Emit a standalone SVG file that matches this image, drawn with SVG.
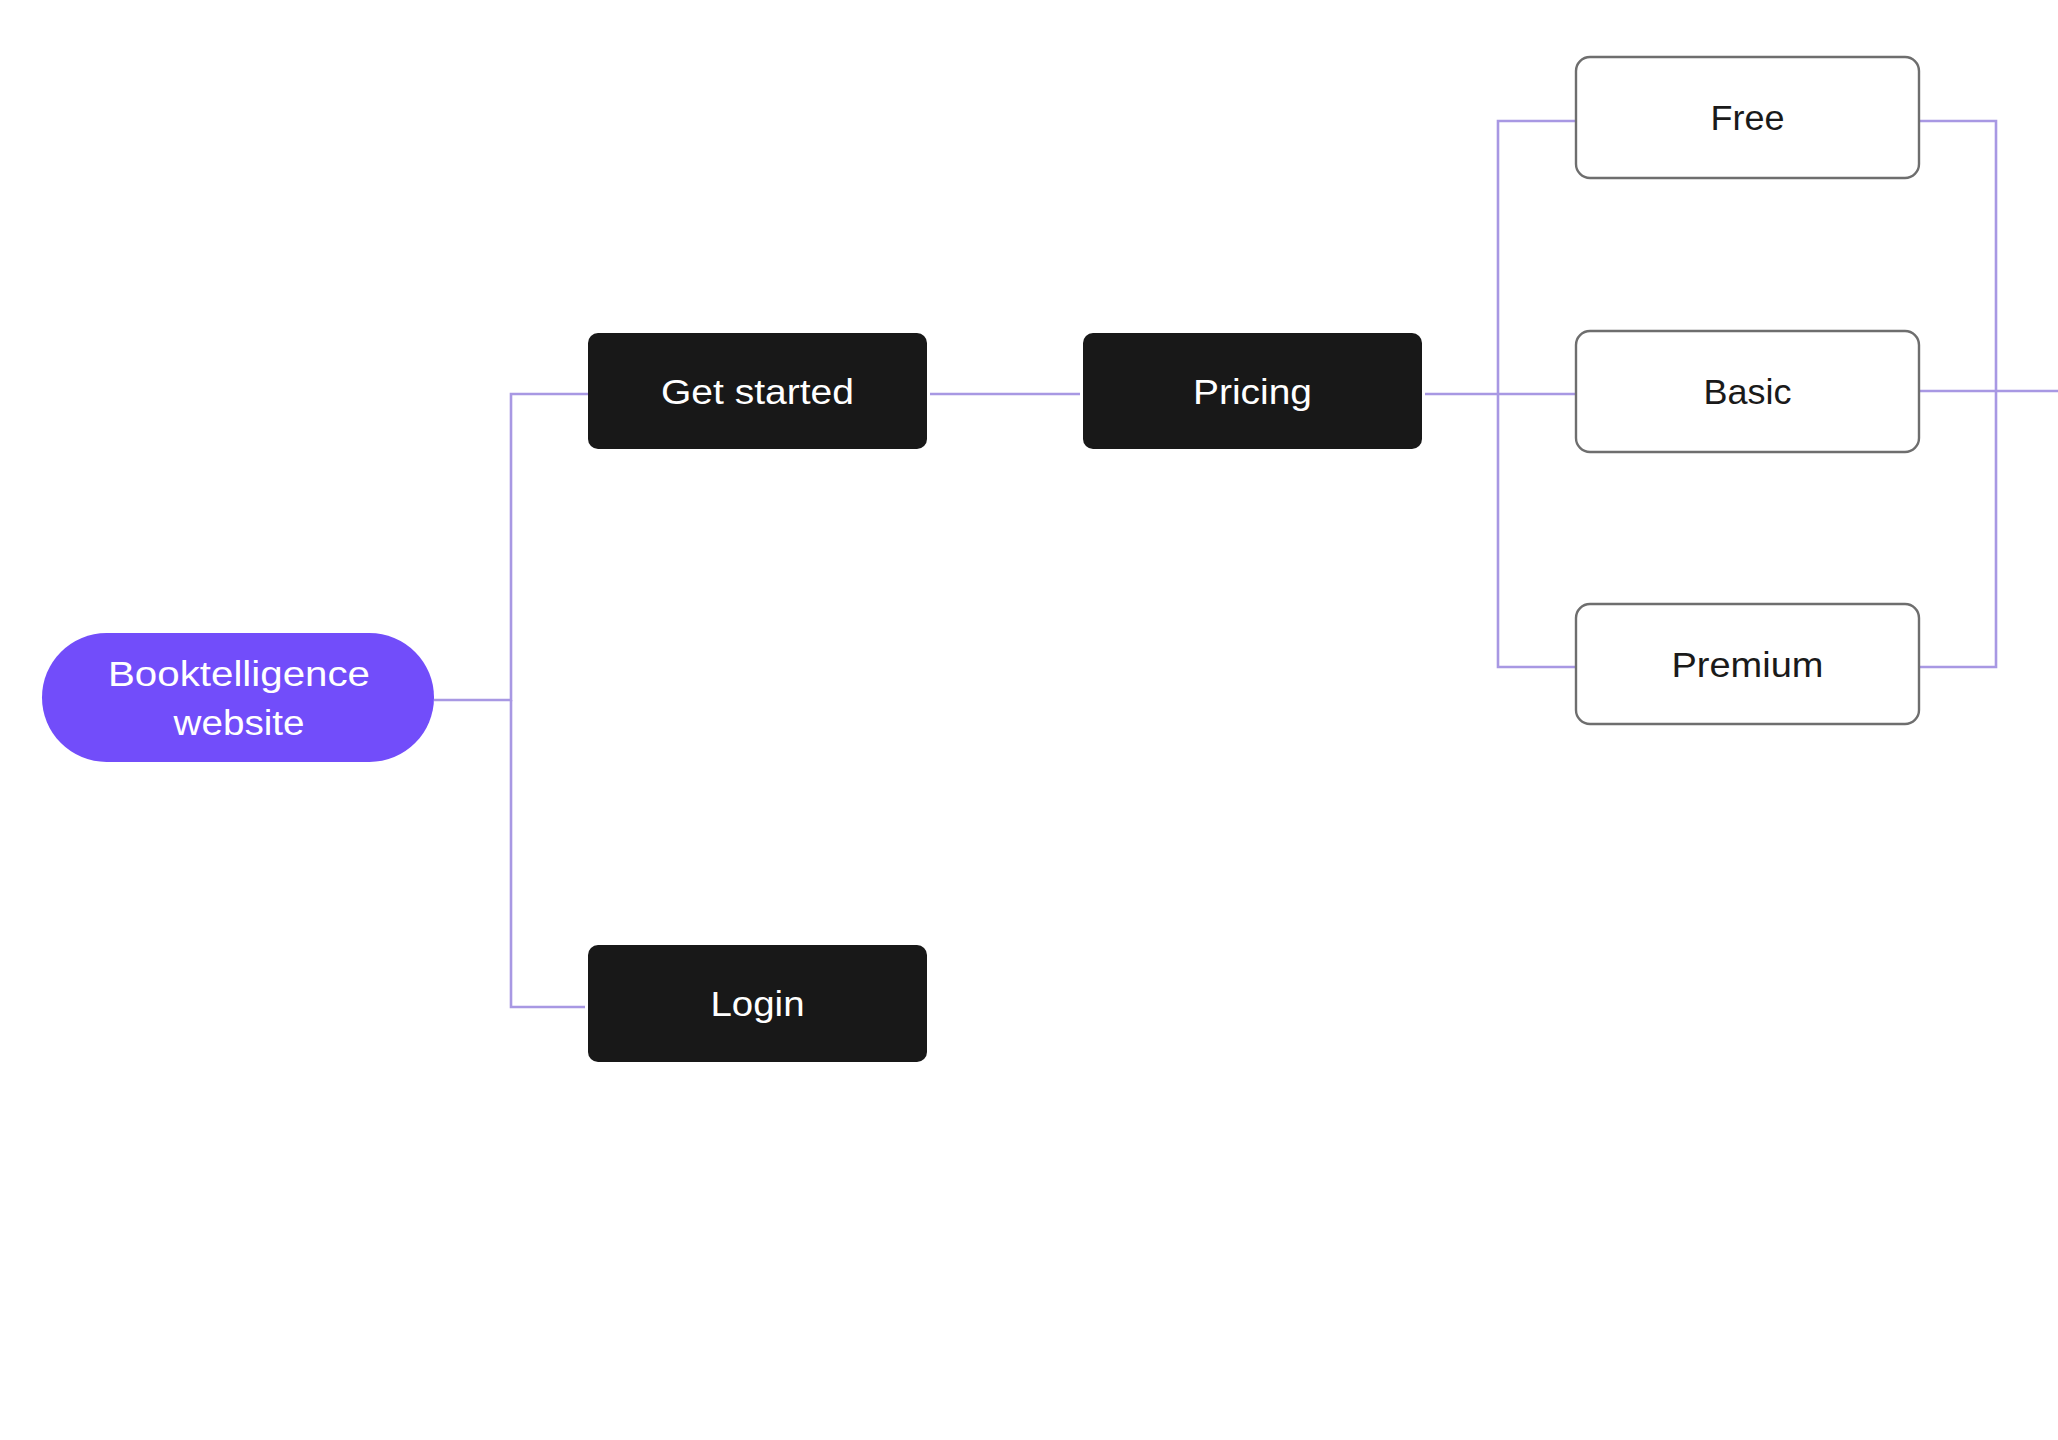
<svg xmlns="http://www.w3.org/2000/svg" width="2058" height="1440" viewBox="0 0 2058 1440">
<style>
.conn{fill:none;stroke:#a898e3;stroke-width:2.6}
.dark rect{fill:#181818}
.dark text{fill:#ffffff}
.light rect{fill:#ffffff;stroke:#6e6e6e;stroke-width:2.4}
.light text{fill:#1a1a1a}
text{font-family:"Liberation Sans",Arial,sans-serif;font-size:35px;text-anchor:middle}
</style>
<rect width="2058" height="1440" fill="#ffffff"/>
<g id="connectors">
<path class="conn" d="M434 700 H511 V394 H588"/>
<path class="conn" d="M511 700 V1007 H585"/>
<path class="conn" d="M930 394 H1080"/>
<path class="conn" d="M1425 394 H1576"/>
<path class="conn" d="M1576 121 H1498 V667 H1576"/>
<path class="conn" d="M1919 121 H1996 V667 H1919"/>
<path class="conn" d="M1919 391 H2058"/>
</g>
<g id="node-root">
<rect x="42" y="633" width="392" height="129" rx="64.5" fill="#724dfa"/>
<text x="239" y="686" fill="#ffffff" textLength="262" lengthAdjust="spacingAndGlyphs">Booktelligence</text>
<text x="239" y="735" fill="#ffffff" textLength="131" lengthAdjust="spacingAndGlyphs">website</text>
</g>
<g id="node-get-started" class="dark">
<rect x="588" y="333" width="339" height="116" rx="10"/>
<text x="757.5" y="404" textLength="193" lengthAdjust="spacingAndGlyphs">Get started</text>
</g>
<g id="node-pricing" class="dark">
<rect x="1083" y="333" width="339" height="116" rx="10"/>
<text x="1252.5" y="404" textLength="119" lengthAdjust="spacingAndGlyphs">Pricing</text>
</g>
<g id="node-login" class="dark">
<rect x="588" y="945" width="339" height="117" rx="10"/>
<text x="757.5" y="1016" textLength="94" lengthAdjust="spacingAndGlyphs">Login</text>
</g>
<g id="node-free" class="light">
<rect x="1576" y="57" width="343" height="121" rx="14"/>
<text x="1747.5" y="130" textLength="74" lengthAdjust="spacingAndGlyphs">Free</text>
</g>
<g id="node-basic" class="light">
<rect x="1576" y="331" width="343" height="121" rx="14"/>
<text x="1747.5" y="404" textLength="88" lengthAdjust="spacingAndGlyphs">Basic</text>
</g>
<g id="node-premium" class="light">
<rect x="1576" y="604" width="343" height="120" rx="14"/>
<text x="1747.5" y="677" textLength="152" lengthAdjust="spacingAndGlyphs">Premium</text>
</g>
</svg>
